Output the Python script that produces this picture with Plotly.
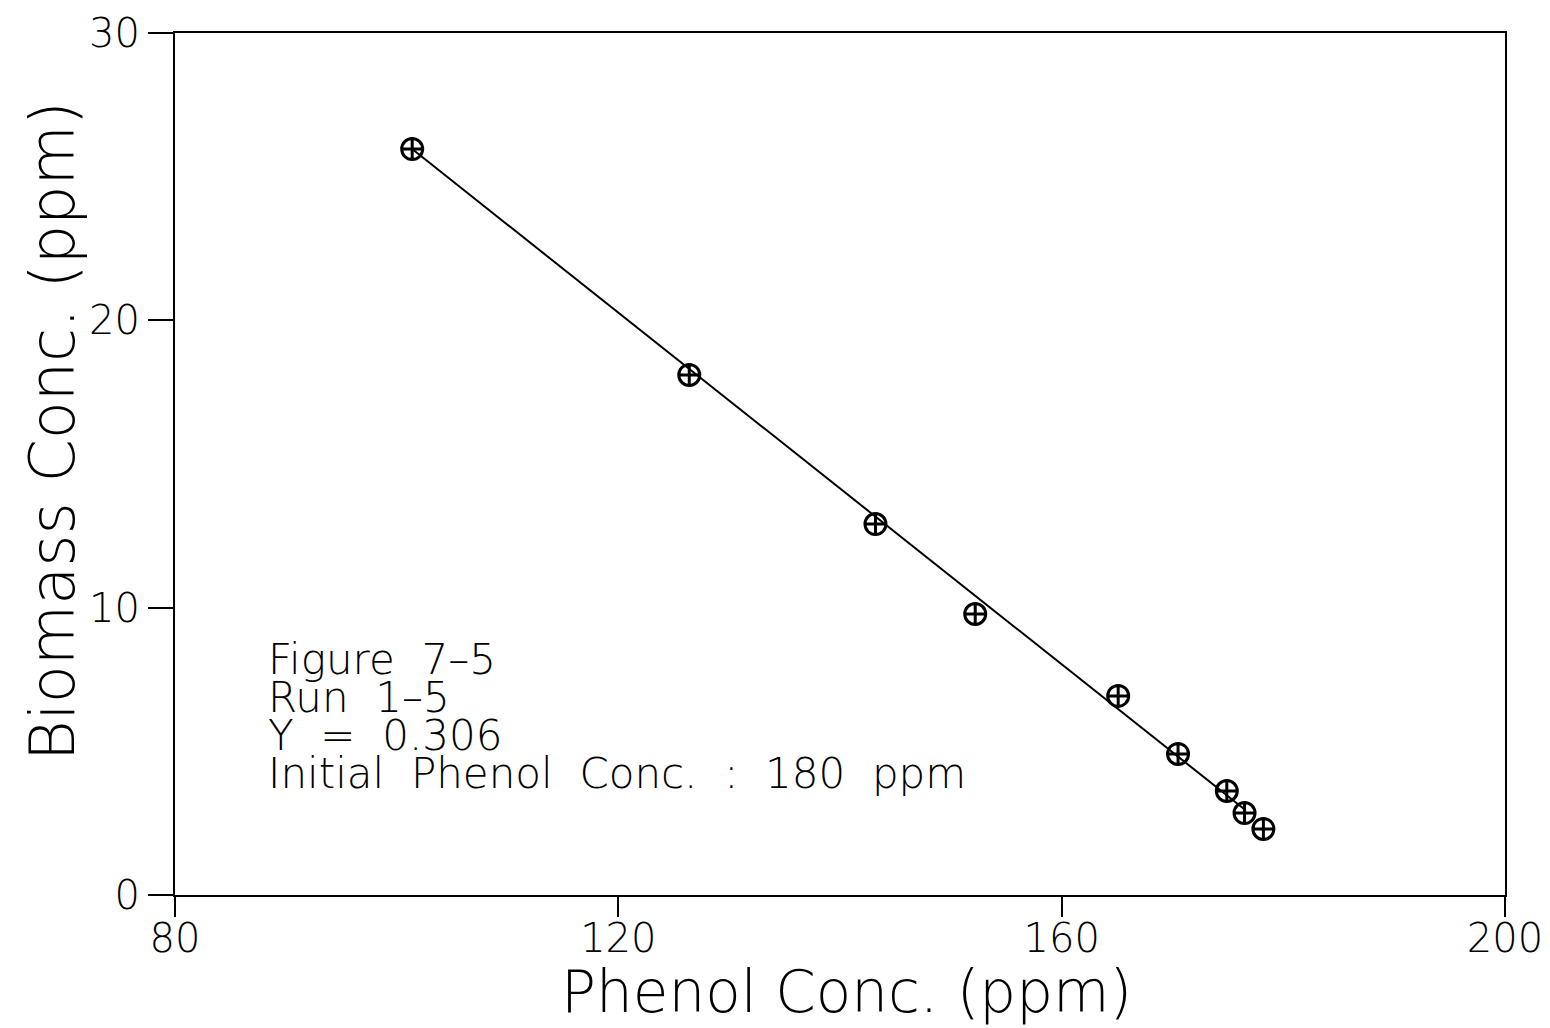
import plotly.graph_objects as go

# Measured phenol and biomass concentrations (ppm)
phenol = [101.4, 126.4, 143.2, 152.2, 165.1, 170.5, 174.9, 176.5, 178.2]
biomass = [25.96, 18.1, 12.91, 9.78, 6.93, 4.91, 3.62, 2.85, 2.30]

# Fitted yield line endpoints (Y = 0.306)
fit_x = [101.4, 176.6]
fit_y = [25.96, 2.95]

x_ticks = [80, 120, 160, 200]
y_ticks = [0, 10, 20, 30]

info_lines = ["Figure  7\u20135", "Run  1\u20135", "Y  =  0.306",
              "Initial  Phenol  Conc.  :  180  ppm"]

font_family = "DejaVu Sans Light, DejaVu Sans, Verdana, sans-serif"
font_weight = 300

W, H = 1550, 1028
L, R, T, B = 175, 45, 33, 133
plot_h = H - T - B
plot_w = W - L - R


def py(pixel_y):
    """Convert a page pixel row into paper coordinates."""
    return (H - B - pixel_y) / plot_h


def px(pixel_x):
    return (pixel_x - L) / plot_w


fig = go.Figure()
fig.add_trace(go.Scatter(x=fit_x, y=fit_y, mode="lines",
                         line=dict(color="black", width=2), showlegend=False))
fig.add_trace(go.Scatter(x=phenol, y=biomass, mode="markers",
                         marker=dict(symbol="circle-cross-open", size=21, color="black",
                                     line=dict(color="black", width=3)),
                         showlegend=False))

# Run information block
for i, line in enumerate(info_lines):
    fig.add_annotation(
        x=px(266), y=py(659 + 38 * i), xref="paper", yref="paper",
        xanchor="left", yanchor="middle", showarrow=False, text=line,
        font=dict(family=font_family, size=42, color="black", weight=font_weight),
    )

# Axis titles
fig.add_annotation(x=px(846), y=py(992), xref="paper", yref="paper",
                   xanchor="center", yanchor="middle", showarrow=False,
                   text="Phenol Conc. (ppm)",
                   font=dict(family=font_family, size=58, color="black", weight=font_weight))
fig.add_annotation(x=px(52), y=py(431), xref="paper", yref="paper",
                   xanchor="center", yanchor="middle", showarrow=False, textangle=-90,
                   text="Biomass Conc. (ppm)",
                   font=dict(family=font_family, size=62, color="black", weight=font_weight))

axis_common = dict(ticks="outside", tickwidth=2, tickcolor="black", showline=True,
                   linecolor="black", linewidth=2, mirror=True, showgrid=False,
                   zeroline=False, automargin=False,
                   tickfont=dict(family=font_family, size=40, color="black",
                                 weight=font_weight))

fig.update_layout(
    width=W, height=H,
    margin=dict(l=L, r=R, t=T, b=B),
    paper_bgcolor="white", plot_bgcolor="white",
    font=dict(family=font_family, color="black"),
    xaxis=dict(range=[80, 200], tickvals=x_ticks, ticklen=7,
               minor=dict(tickvals=x_ticks, ticks="outside", ticklen=20, tickwidth=2,
                          tickcolor="black", showgrid=False),
               **axis_common),
    yaxis=dict(range=[0, 30], tickvals=y_ticks, ticklen=25, **axis_common),
)

fig.write_html("out.html")
